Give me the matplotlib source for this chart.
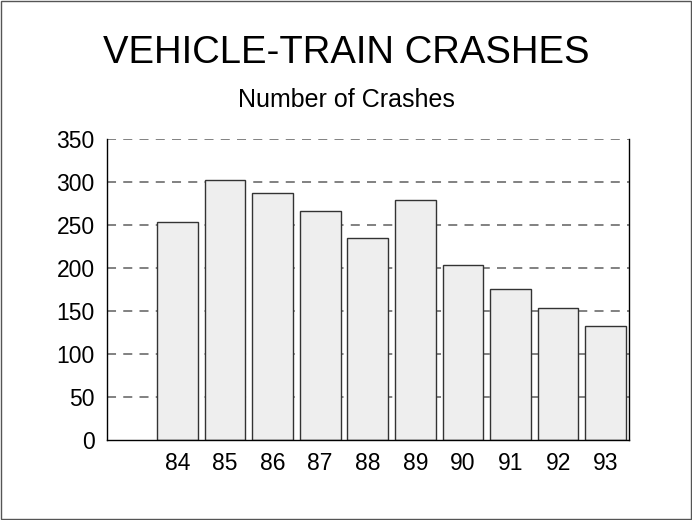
import matplotlib.pyplot as plt
from matplotlib.patches import Rectangle

plt.rcParams['font.family'] = ['Liberation Sans', 'DejaVu Sans']

years = [84, 85, 86, 87, 88, 89, 90, 91, 92, 93]
crashes = [253, 302, 287, 266, 235, 279, 203, 176, 153, 133]
yticks = [0, 50, 100, 150, 200, 250, 300, 350]

fig = plt.figure(figsize=(6.92, 5.2), dpi=100)
ax = fig.add_axes([107 / 692, 1 - 440 / 520, 522 / 692, 301 / 520])

# dashed grid sits behind the bars
for y in yticks[1:]:
    ax.axhline(y, color='#777777', linestyle=(0, (5, 4)), linewidth=1.3, zorder=0)

ax.bar(years, crashes, width=0.855, color='#eeeeee', edgecolor='#333333',
       linewidth=1.0, zorder=2)

ax.set_xlim(82.52, 93.49)
ax.set_ylim(0, 350)
ax.set_xticks(years)
ax.set_yticks(yticks)
ax.tick_params(length=0, labelsize=16.5)
ax.tick_params(axis='y', pad=9)
ax.tick_params(axis='x', pad=9)
ax.spines['top'].set_visible(False)
for s in ['left', 'right', 'bottom']:
    ax.spines[s].set_color('black')
    ax.spines[s].set_linewidth(1.0)

fig.text(0.5, 1 - 63 / 520, 'VEHICLE-TRAIN CRASHES', ha='center', va='baseline', fontsize=27.5)
fig.text(0.5, 1 - 107 / 520, 'Number of Crashes', ha='center', va='baseline', fontsize=18)

fig.patches.append(Rectangle((0.001, 0.001), 0.997, 0.997, transform=fig.transFigure,
                             fill=False, edgecolor='#555555', linewidth=1.0))

fig.savefig('out.png', dpi=100)
